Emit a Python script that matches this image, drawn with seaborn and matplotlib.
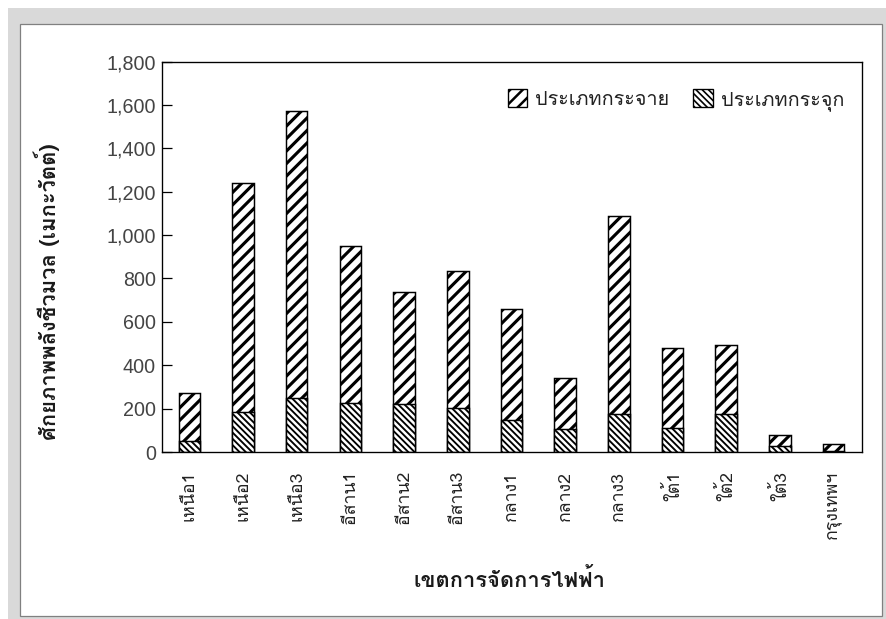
import numpy as np
import pandas as pd
import matplotlib
matplotlib.use("Agg")
import matplotlib.pyplot as plt
from matplotlib import font_manager
from matplotlib.patches import Rectangle, Patch
import seaborn as sns

# ---- data ----
regions = ["เหนือ1", "เหนือ2", "เหนือ3", "อีสาน1", "อีสาน2", "อีสาน3",
           "กลาง1", "กลาง2", "กลาง3", "ใต้1", "ใต้2", "ใต้3", "กรุงเทพฯ"]
distributed = [222, 1056, 1320, 725, 516, 628, 509, 233, 910, 370, 318, 51, 34]   # ประเภทกระจาย
concentrated = [50, 184, 251, 226, 220, 205, 149, 106, 176, 111, 176, 29, 3]      # ประเภทกระจุก
yticks = [0, 200, 400, 600, 800, 1000, 1200, 1400, 1600, 1800]

label_dist = "ประเภทกระจาย"
label_conc = "ประเภทกระจุก"
xlabel = "เขตการจัดการไฟฟ้า"
ylabel = "ศักยภาพพลังชีวมวล (เมกะวัตต์)"

# ---- find a font with Thai glyphs ----
def find_thai_fonts():
    from matplotlib.ft2font import FT2Font
    found = []
    for f in font_manager.fontManager.ttflist:
        try:
            cmap = FT2Font(f.fname).get_charmap()
            if 0x0E01 in cmap and 0x0E40 in cmap:
                found.append(f.name)
        except Exception:
            pass
    return list(dict.fromkeys(found))

thai = find_thai_fonts()
thai_family = (thai[:1] if thai else []) + ["DejaVu Sans"]

sns.set_theme(style="white")
DPI = 75
W, H = 886, 619
plt.rcParams['font.family'] = thai_family
plt.rcParams['hatch.linewidth'] = 2.6

fig = plt.figure(figsize=(W / DPI, H / DPI), dpi=DPI)
fig.patch.set_facecolor("white")
# outer grey frame and white panel
fig.patches.append(Rectangle((8 / W, 0), 1 - 8 / W, (H - 8) / H, transform=fig.transFigure,
                             facecolor="#d9d9d9", edgecolor="none", zorder=-10))
fig.patches.append(Rectangle((20 / W, 3 / H), 862 / W, 592 / H, transform=fig.transFigure,
                             facecolor="white", edgecolor="#808080", linewidth=1.2, zorder=-9))

ax = fig.add_axes([162 / W, (H - 452) / H, 700 / W, 390.5 / H])
ax.set_facecolor("white")

df = pd.DataFrame({"region": regions, "dist": distributed, "conc": concentrated})
df["total"] = df["dist"] + df["conc"]

sns.barplot(data=df, x="region", y="total", ax=ax, color="white", edgecolor="black",
            linewidth=1.4, hatch="//", width=0.4, saturation=1)
n1 = len(ax.patches)
sns.barplot(data=df, x="region", y="conc", ax=ax, color="white", edgecolor="black",
            linewidth=1.4, hatch="\\\\\\\\", width=0.4, saturation=1)
for i, p in enumerate(ax.patches):
    lw = 3.0 if i < n1 else 1.8
    try:
        p.set_hatch_linewidth(lw)
    except AttributeError:
        pass

ax.set_xlim(-0.51, 12.53)
ax.set_ylim(0, 1800)
ax.set_yticks(yticks)
ax.set_yticklabels([f"{v:,}" for v in yticks], fontfamily=["Liberation Sans", "DejaVu Sans"],
                   fontsize=19, color="#444444")
ax.tick_params(axis="y", direction="in", length=9.5, width=1.2, color="black", pad=6, left=True)
ax.tick_params(axis="x", length=0, pad=18)
ax.set_xticks(range(len(regions)))
ax.set_xticklabels(regions, rotation=90, fontsize=17, color="#222222", va="top", ha="center")
for s in ax.spines.values():
    s.set_visible(True)
    s.set_color("black")
    s.set_linewidth(1.3)

ax.set_xlabel(xlabel, fontsize=21, fontweight="bold", color="#1a1a1a")
ax.set_ylabel(ylabel, fontsize=21, fontweight="bold", color="#1a1a1a")
ax.xaxis.set_label_coords(0.497, -0.297)
ax.yaxis.set_label_coords(-0.146, 0.41)

h1 = Patch(facecolor="white", edgecolor="black", hatch="//", linewidth=1.3, label=label_dist)
h2 = Patch(facecolor="white", edgecolor="black", hatch="\\\\\\\\", linewidth=1.3, label=label_conc)
leg = ax.legend(handles=[h1, h2], loc="upper right", ncol=2, frameon=False, fontsize=19,
                handlelength=1.0, handleheight=1.0, handletextpad=0.4, columnspacing=1.2,
                bbox_to_anchor=(1.0, 0.975), labelcolor="#222222")
for p in leg.get_patches():
    try:
        p.set_hatch_linewidth(2.4 if p.get_hatch() == "//" else 1.6)
    except AttributeError:
        pass

fig.savefig("out.png", dpi=DPI)
